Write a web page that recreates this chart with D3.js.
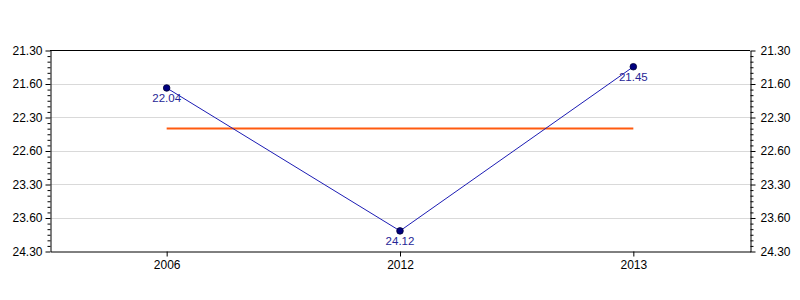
<!DOCTYPE html>
<html>
<head>
<meta charset="utf-8">
<script src="https://cdn.jsdelivr.net/npm/d3@7"></script>
<style>
  body { margin: 0; background: #fff; }
  svg { font-family: "Liberation Sans", Arial, sans-serif; }
</style>
</head>
<body>
<div id="chart"></div>
<script>
// Data (times are minutes.seconds)
const years = ["2006", "2012", "2013"];
const times = ["22.04", "24.12", "21.45"];

// Y axis ticks (seconds) and their labels as printed
const tickSeconds = [1290, 1320, 1350, 1380, 1410, 1440, 1470];
const tickLabels = ["21.30", "21.60", "22.30", "22.60", "23.30", "23.60", "24.30"];

const toSeconds = t => {
  const [m, s] = t.split(".");
  return +m * 60 + +s;
};

const data = years.map((yr, i) => ({year: yr, label: times[i], sec: toSeconds(times[i])}));
const avg = d3.mean(data, d => d.sec);

const width = 800, height = 300;
const plotLeft = 50, plotRight = 750, plotTop = 50, plotBottom = 251;

const svg = d3.select("#chart")
  .append("svg").attr("width", width).attr("height", height);

const x = d3.scaleBand()
  .domain(years)
  .range([plotLeft, plotRight]);

const y = d3.scaleLinear()
  .domain([tickSeconds[0], tickSeconds[tickSeconds.length - 1]])
  .range([plotTop, plotBottom]);

const minorTicks = d3.range(tickSeconds[0], tickSeconds[tickSeconds.length - 1] + 1, 5)
  .filter(v => !tickSeconds.includes(v));

// gridlines
svg.append("g")
  .selectAll("line")
  .data(tickSeconds.slice(1, -1))
  .join("line")
  .attr("x1", plotLeft).attr("x2", plotRight)
  .attr("y1", d => Math.round(y(d)) + 0.5).attr("y2", d => Math.round(y(d)) + 0.5)
  .attr("stroke", "#d9d9d9");

// top border
svg.append("line")
  .attr("x1", plotLeft).attr("x2", plotRight)
  .attr("y1", plotTop + 0.5).attr("y2", plotTop + 0.5)
  .attr("stroke", "#000");

// left axis
const yLeft = svg.append("g")
  .attr("transform", `translate(${plotLeft + 0.5},0.5)`)
  .call(d3.axisLeft(y).tickValues(tickSeconds)
    .tickFormat((d, i) => tickLabels[i]).tickSize(5).tickSizeOuter(0));

const yLeftMinor = svg.append("g")
  .attr("transform", `translate(${plotLeft + 0.5},0.5)`)
  .call(d3.axisLeft(y).tickValues(minorTicks).tickFormat("").tickSize(3).tickSizeOuter(0));
yLeftMinor.select(".domain").remove();

// right axis
const yRight = svg.append("g")
  .attr("transform", `translate(${plotRight + 0.5},0.5)`)
  .call(d3.axisRight(y).tickValues(tickSeconds)
    .tickFormat((d, i) => tickLabels[i]).tickSize(5).tickSizeOuter(0));

const yRightMinor = svg.append("g")
  .attr("transform", `translate(${plotRight + 0.5},0.5)`)
  .call(d3.axisRight(y).tickValues(minorTicks).tickFormat("").tickSize(3).tickSizeOuter(0));
yRightMinor.select(".domain").remove();

[yLeft, yRight].forEach(g => {
  g.attr("font-size", 12).attr("font-family", "Liberation Sans, Arial, sans-serif");
  g.selectAll("text").attr("fill", "#000");
});
yLeft.selectAll("text").attr("x", -8);
yRight.selectAll("text").attr("x", 10);

// bottom axis
const xAxis = svg.append("g")
  .attr("transform", `translate(0.5, ${plotBottom + 0.5})`)
  .attr("font-size", 12)
  .attr("font-family", "Liberation Sans, Arial, sans-serif")
  .call(d3.axisBottom(x).tickSize(5).tickSizeOuter(0));
xAxis.attr("font-size", 12).attr("font-family", "Liberation Sans, Arial, sans-serif");
xAxis.selectAll("text").attr("fill", "#000").attr("y", 9);

// average line
svg.append("line")
  .attr("x1", x(years[0]) + x.bandwidth() / 2)
  .attr("x2", x(years[years.length - 1]) + x.bandwidth() / 2)
  .attr("y1", y(avg)).attr("y2", y(avg))
  .attr("stroke", "#ff5a0f")
  .attr("stroke-width", 2);

// series line
const line = d3.line()
  .x(d => x(d.year) + x.bandwidth() / 2)
  .y(d => y(d.sec));

svg.append("path")
  .datum(data)
  .attr("d", line)
  .attr("fill", "none")
  .attr("stroke", "#1c1cb4")
  .attr("stroke-width", 1);

svg.selectAll("circle")
  .data(data)
  .join("circle")
  .attr("cx", d => x(d.year) + x.bandwidth() / 2)
  .attr("cy", d => y(d.sec))
  .attr("r", 3.3)
  .attr("fill", "#000080")
  .attr("stroke", "#000033")
  .attr("stroke-width", 0.8);

svg.selectAll(".val")
  .data(data)
  .join("text")
  .attr("class", "val")
  .attr("x", d => x(d.year) + x.bandwidth() / 2)
  .attr("y", d => y(d.sec) + 14)
  .attr("text-anchor", "middle")
  .attr("font-size", 11.5)
  .attr("fill", "#262696")
  .text(d => d.label);
</script>
</body>
</html>
